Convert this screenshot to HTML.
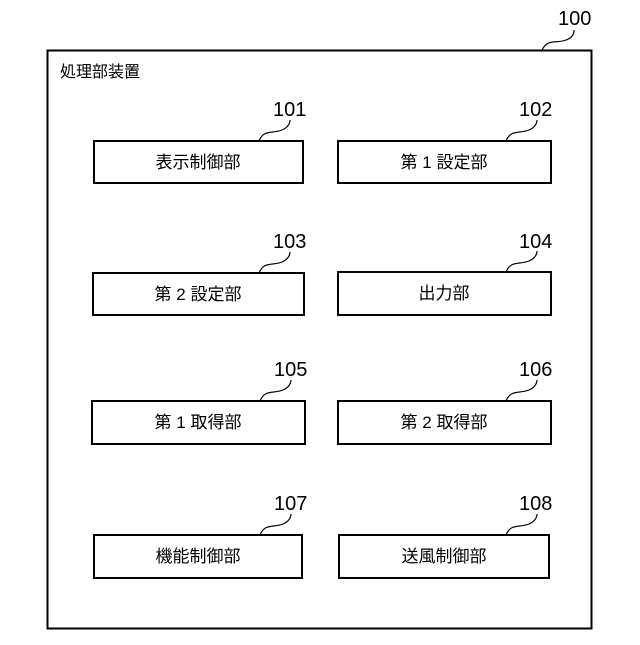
<!DOCTYPE html>
<html><head><meta charset="utf-8"><style>
body{margin:0;background:#fff;}
svg text{font-family:"Liberation Sans","Noto Sans CJK JP",sans-serif;fill:#000;}
</style></head><body>
<svg width="640" height="640" viewBox="0 0 640 640" xmlns="http://www.w3.org/2000/svg">
<rect x="0" y="0" width="640" height="640" fill="#fff"/>
<rect x="47.5" y="50.5" width="544" height="578" fill="none" stroke="#000" stroke-width="2"/>
<text x="60" y="77" font-size="16">処理部装置</text>
<text x="558" y="25" font-size="20">100</text>
<path d="M542 50 C548 38,556 44,566 40 C572 38,574 34,574 30" fill="none" stroke="#000" stroke-width="1.2"/>
<g stroke="#000" stroke-width="2" fill="none">
<rect x="94" y="141" width="209" height="42"/>
<rect x="338" y="141" width="213" height="42"/>
<rect x="93" y="273" width="211" height="42"/>
<rect x="338" y="272" width="213" height="43"/>
<rect x="92" y="401" width="213" height="43"/>
<rect x="338" y="401" width="213" height="43"/>
<rect x="94" y="535" width="208" height="43"/>
<rect x="339" y="535" width="210" height="43"/>
</g>
<g stroke="#000" stroke-width="1.2" fill="none">
<path d="M259 141 C264 129,272 134,282 130 C287 128,290 124,290 120"/>
<path d="M506 141 C511 129,519 134,529 130 C534 128,537 124,537 120"/>
<path d="M259 273 C264 261,272 266,282 262 C287 260,290 256,290 252"/>
<path d="M506 272 C511 260,519 265,529 261 C534 259,537 255,537 251"/>
<path d="M260 401 C265 389,273 394,283 390 C288 388,291 384,291 380"/>
<path d="M506 401 C511 389,519 394,529 390 C534 388,537 384,537 380"/>
<path d="M260 535 C265 523,273 528,283 524 C288 522,291 518,291 514"/>
<path d="M506 535 C511 523,519 528,529 524 C534 522,537 518,537 514"/>
</g>
<g font-size="20">
<text x="273" y="116">101</text>
<text x="519" y="116">102</text>
<text x="273" y="248">103</text>
<text x="519" y="248">104</text>
<text x="274" y="376">105</text>
<text x="519" y="376">106</text>
<text x="274" y="510">107</text>
<text x="519" y="510">108</text>
</g>
<g font-size="17" text-anchor="middle">
<text x="198" y="168">表示制御部</text>
<text x="444" y="168">第 1 設定部</text>
<text x="198" y="300">第 2 設定部</text>
<text x="444" y="299">出力部</text>
<text x="198" y="428">第 1 取得部</text>
<text x="444" y="428">第 2 取得部</text>
<text x="198" y="562">機能制御部</text>
<text x="444" y="562">送風制御部</text>
</g>
</svg>
</body></html>
